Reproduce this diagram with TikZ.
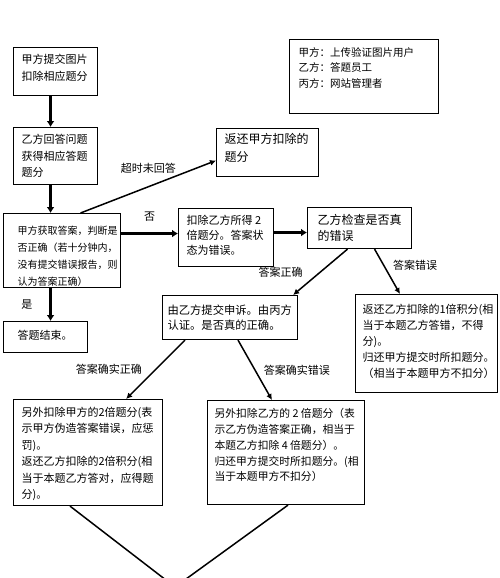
\documentclass[tikz,border=0pt]{standalone}
\usepackage{fontspec}
\setmainfont{Noto Sans CJK SC}
\usetikzlibrary{arrows.meta}

% [marge haute] largeur, hauteur, marge gauche, texte
\newcommand{\Cadre}[5][7pt]{%
    \parbox[t][#3][t]{#2}{\vspace*{#1}\leftskip=#4\relax #5}}

\tikzset{
  cadre/.style={draw,line width=1.1pt,inner sep=0pt,anchor=north west,
      font=\fontsize{11}{16.5}\selectfont},
  fleche/.style={line width=1.5pt,-{Latex[length=6pt,width=6pt]}},
  grosse/.style={line width=2.6pt,-{Latex[length=6pt,width=8pt]}},
  trait/.style={line width=1.5pt},
  etiq/.style={font=\fontsize{11}{13}\selectfont,inner sep=1pt}
}

\begin{document}
\begin{tikzpicture}[x=1pt,y=-1pt]
\useasboundingbox[fill=white] (0,0) rectangle (500,578);

% legende
\node[cadre,font=\fontsize{10.5}{15.5}\selectfont] (L) at (289,39)
  {\Cadre[8pt]{149pt}{74pt}{9pt}{甲方：上传验证图片用户\\乙方：答题员工\\丙方：网站管理者}};

% colonne de gauche
\node[cadre] (A) at (13,47) {\Cadre{84pt}{48pt}{8pt}{甲方提交图片\\扣除相应题分}};
\node[cadre] (B) at (13,127) {\Cadre{84pt}{57pt}{8pt}{乙方回答问题\\获得相应答题\\题分}};
\node[cadre,font=\fontsize{10}{17}\selectfont] (C) at (3,213)
  {\Cadre[12pt]{117pt}{74pt}{14pt}{甲方获取答案，判断是\\否正确（若十分钟内，\\没有提交错误报告，则\\认为答案正确）}};
\node[cadre] (Fin) at (3,321) {\Cadre[9pt]{84pt}{31pt}{14pt}{答题结束。}};

% le reste
\node[cadre,font=\fontsize{12}{17.5}\selectfont] (R) at (216,128)
  {\Cadre[5pt]{102pt}{48pt}{8pt}{返还甲方扣除的\\题分}};
\node[cadre,font=\fontsize{11}{15}\selectfont] (D) at (178,208)
  {\Cadre{95pt}{58pt}{8pt}{扣除乙方所得 2\\倍题分。答案状\\态为错误。}};
\node[cadre,font=\fontsize{12}{16}\selectfont] (E) at (307,207)
  {\Cadre{104pt}{41pt}{10pt}{乙方检查是否真\\的错误}};
\node[cadre,font=\fontsize{11.3}{15.5}\selectfont] (F) at (162,295)
  {\Cadre[9pt]{135pt}{44pt}{5pt}{由乙方提交申诉。由丙方\\认证。是否真的正确。}};
\node[cadre,font=\fontsize{11}{16}\selectfont] (G) at (355,294)
  {\Cadre[10pt]{142pt}{98pt}{7pt}{返还乙方扣除的1倍积分(相\\当于本题乙方答错，不得\\分)。\\归还甲方提交时所扣题分。\\（相当于本题甲方不扣分）}};
\node[cadre] (H) at (13,399)
  {\Cadre[7.5pt]{149pt}{106pt}{8pt}{另外扣除甲方的2倍题分(表\\示甲方伪造答案错误，应惩\\罚)。\\返还乙方扣除的2倍积分(相\\当于本题乙方答对，应得题\\分)。}};
\node[cadre,font=\fontsize{10.8}{15.8}\selectfont] (I) at (207,400)
  {\Cadre[8pt]{157pt}{104pt}{7pt}{另外扣除乙方的 2 倍题分（表\\示乙方伪造答案正确，相当于\\本题乙方扣除 4 倍题分）。\\归还甲方提交时所扣题分。(相\\当于本题甲方不扣分）}};

% fleches
\draw[grosse] ([xshift=-5pt]A.south) -- ([xshift=-5pt]B.north);
\draw[grosse] ([xshift=-5pt]B.south) -- ([xshift=-11.5pt]C.north);
\draw[fleche] ([xshift=18.5pt]C.north) -- ([yshift=-8pt]R.west)
  node[etiq,midway,above=12pt] {超时未回答};
\draw[grosse] ([yshift=17pt]C.east) -- ([yshift=4pt]D.west)
  node[etiq,midway,above=10pt] {否};
\draw[grosse] ([xshift=-11.5pt]C.south) -- ([xshift=5pt]Fin.north)
  node[etiq,midway,left=16pt] {是};
\draw[grosse] ([yshift=5pt]D.east) -- ([yshift=-4.5pt]E.west);
\draw[fleche] ([xshift=-12pt]E.south) -- ([xshift=-5pt]F.north east)
  node[etiq,midway,left=16pt] {答案正确};
\draw[fleche] ([xshift=15pt]E.south) -- ([xshift=45pt]G.north west)
  node[etiq,pos=0.35,right=8pt] {答案错误};
\draw[fleche] ([xshift=23pt]F.south west) -- ([xshift=-37pt]H.north east)
  node[etiq,midway,left=12pt] {答案确实正确};
\draw[fleche] ([xshift=76pt]F.south west) -- ([xshift=65pt]I.north west)
  node[etiq,midway,right=7pt] {答案确实错误};

% vers le bas (hors cadre)
\coordinate (bas) at (175,587);
\draw[trait] ([xshift=57pt]H.south west) -- (bas);
\draw[trait] ([xshift=81pt]I.south west) -- (bas);
\end{tikzpicture}
\end{document}
